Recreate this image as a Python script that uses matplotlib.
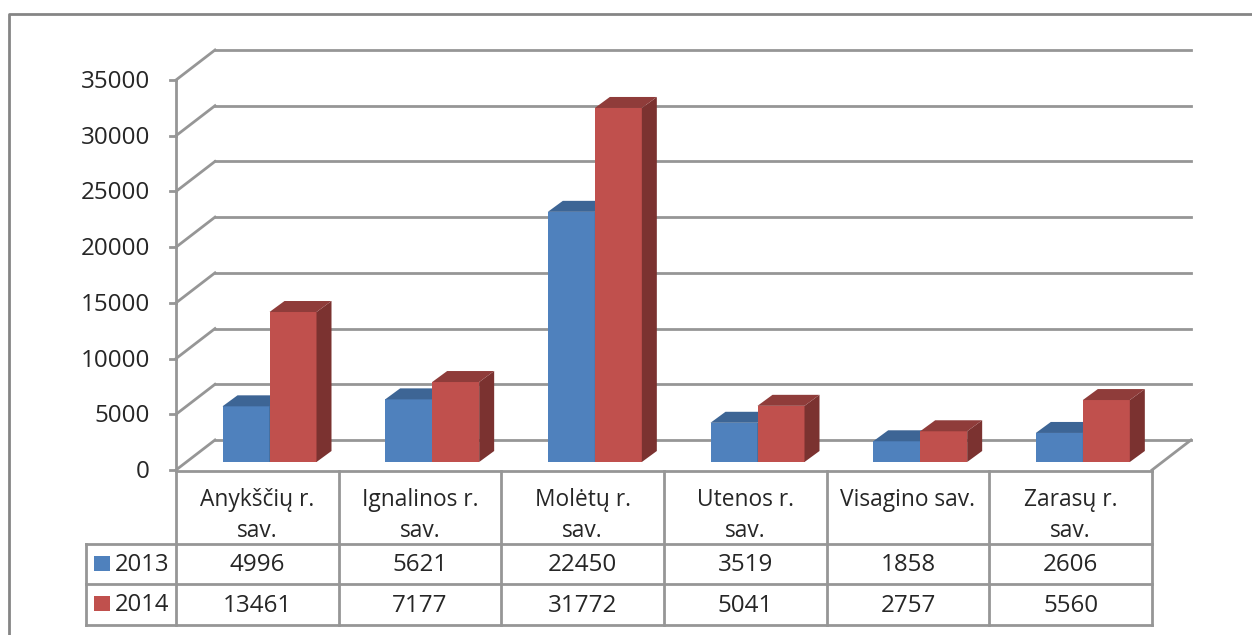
import matplotlib
matplotlib.use('Agg')
import matplotlib.pyplot as plt
from matplotlib.patches import Polygon, Rectangle

categories = ['Anykščių r.\nsav.', 'Ignalinos r.\nsav.', 'Molėtų r.\nsav.',
              'Utenos r.\nsav.', 'Visagino sav.', 'Zarasų r.\nsav.']
series_names = ['2013', '2014']
values_2013 = [4996, 5621, 22450, 3519, 1858, 2606]
values_2014 = [13461, 7177, 31772, 5041, 2757, 5560]
y_ticks = [0, 5000, 10000, 15000, 20000, 25000, 30000, 35000]

W, H = 1252, 635
plt.rcParams['font.family'] = ['Open Sans', 'DejaVu Sans']

GRID = '#969696'
TEXT = '#262626'

fig = plt.figure(figsize=(W / 100, H / 100), dpi=100)

# overlay in pixel coords for frame and table
px = fig.add_axes([0, 0, 1, 1])
px.set_xlim(0, W)
px.set_ylim(H, 0)
px.axis('off')

# the front plane of the chart
left, right, top, bottom = 176, 1152, 80, 470
ax = fig.add_axes([left / W, 1 - bottom / H, (right - left) / W, (bottom - top) / H])
ax.set_xlim(0, len(categories))
ax.set_ylim(0, 35000)
ax.axis('off')
ax.patch.set_alpha(0)

ux = (right - left) / len(categories)
uy = (bottom - top) / 35000
depth_x = 39 / ux
depth_y = 30 / uy


def line(a, xs, ys, lw=2.0):
    a.plot(xs, ys, color=GRID, lw=lw, clip_on=False, solid_capstyle='projecting')


# outer frame, no right edge in the source
px.plot([9, 9, W], [H, 14, 14], color='#858585', lw=2, clip_on=False)

# walls and gridlines
for t in y_ticks:
    line(ax, [0, depth_x], [t, t + depth_y])
    line(ax, [depth_x, len(categories) + depth_x], [t + depth_y, t + depth_y])
    line(ax, [-6 / ux, 0], [t, t])
    ax.text(-26 / ux, t - 2 / uy, str(t), ha='right', va='center', fontsize=17.4,
            color=TEXT, clip_on=False)
line(ax, [0, 0], [0, 35000])
line(ax, [len(categories), len(categories) + depth_x], [0, depth_y])


def bar3d(x, val, w, front, side, tops):
    base = 8 / uy
    dx, dy = 15 / ux, 11 / uy
    ax.bar(x, val, width=w, bottom=base, align='edge', color=front, zorder=3)
    ax.add_patch(Polygon([(x + w, base), (x + w + dx, base + dy), (x + w + dx, base + val + dy),
                          (x + w, base + val)], color=side, lw=0, zorder=3))
    ax.add_patch(Polygon([(x, base + val), (x + w, base + val), (x + w + dx, base + val + dy),
                          (x + dx, base + val + dy)], color=tops, lw=0, zorder=3))


bar_w = 47 / ux
for i in range(len(categories)):
    x0 = i + 46.5 / ux
    bar3d(x0, values_2013[i], bar_w, '#4f81bd', '#3a6089', '#3d6595')
    bar3d(x0 + bar_w, values_2014[i], bar_w, '#c0504d', '#7b3230', '#8f3c3a')

# data table under the chart
rows = [471, 544, 584, 625]
line(px, [left, right], [rows[0], rows[0]])
line(px, [86, right], [rows[1], rows[1]])
line(px, [86, right], [rows[2], rows[2]])
line(px, [86, right], [rows[3], rows[3]])
line(px, [86, 86], [rows[1], rows[3]])
for i in range(len(categories) + 1):
    xx = left + i * ux
    line(px, [xx, xx], [rows[0], rows[3]])

for i, cat in enumerate(categories):
    xc = left + (i + 0.5) * ux
    parts = cat.split('\n')
    px.text(xc, 500, parts[0], ha='center', va='center', fontsize=16.4, color=TEXT)
    if len(parts) > 1:
        px.text(xc, 531, parts[1], ha='center', va='center', fontsize=16.4, color=TEXT)
    px.text(xc, 565, str(values_2013[i]), ha='center', va='center', fontsize=17.4, color=TEXT)
    px.text(xc, 606, str(values_2014[i]), ha='center', va='center', fontsize=17.4, color=TEXT)

for name, yc, col in zip(series_names, [563, 603], ['#4f81bd', '#c0504d']):
    px.add_patch(Rectangle((94, yc - 7), 16, 15, color=col, lw=0))
    px.text(115, yc + 2, name, ha='left', va='center', fontsize=17.2, color=TEXT)

fig.savefig('out.png', dpi=100)
